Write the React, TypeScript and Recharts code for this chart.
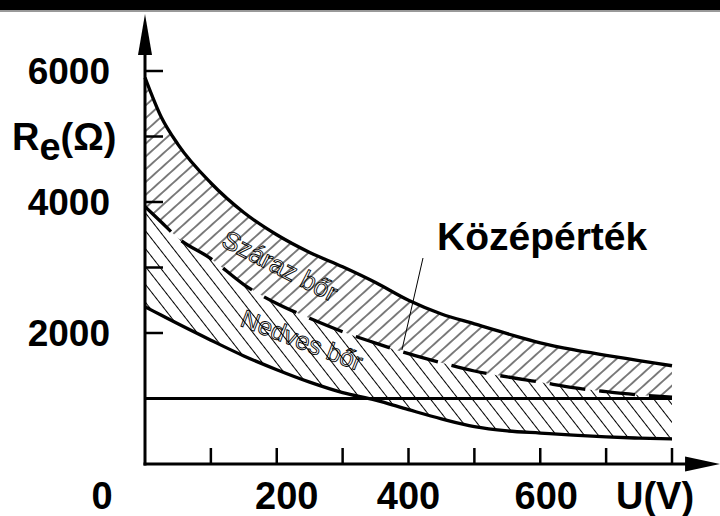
import { ComposedChart, Area, Line, XAxis, YAxis, ReferenceLine } from 'recharts';

// U (V) sample points
const voltage = [0, 25, 50, 100, 150, 200, 250, 300, 350, 400, 450, 500, 550, 600, 650, 700, 750, 800];
// upper bound (dry skin), Ω
const dryUpper = [5900, 5290, 4880, 4290, 3840, 3500, 3230, 3010, 2770, 2500, 2290, 2140, 1990, 1850, 1745, 1660, 1580, 1500];
// mean value (dashed), Ω
const middle = [3930, 3690, 3450, 3135, 2740, 2450, 2225, 2020, 1845, 1685, 1545, 1420, 1330, 1250, 1165, 1105, 1055, 1020];
// lower bound (wet skin), Ω
const wetLower = [2400, 2270, 2140, 1890, 1650, 1440, 1250, 1090, 975, 830, 690, 570, 505, 472, 440, 413, 395, 382];

const xTicks = [100, 200, 300, 400, 500, 600, 700, 800];
const xLabels = [200, 400, 600];
const yTicks = [1000, 2000, 3000, 4000, 5000, 6000];
const yLabels = [2000, 4000, 6000];
const limitLine = 1000;

// axis arrow ends, in data units
const xArrowEnd = 873;
const yArrowEnd = 6870;

// leader line for "Középérték"
const leader = [
  { x: 390, y: 1740 },
  { x: 422, y: 3145 },
];

const data = voltage.map((u, i) => ({
  u,
  upper: dryUpper[i],
  mid: middle[i],
  lower: wetLower[i],
  dryBand: [middle[i], dryUpper[i]],
  wetBand: [wetLower[i], middle[i]],
}));

const FONT = '"Liberation Sans", Arial, Helvetica, sans-serif';

// tick marks point inwards; labels drawn below / left of the axis line
function XTick({ x, payload, axisY }: any) {
  const label = xLabels.includes(payload.value);
  const shift = payload.value === 200 ? 10 : payload.value === 600 ? 6 : 0;
  return (
    <g>
      <line x1={x} y1={axisY} x2={x} y2={axisY - 16} stroke="#000" strokeWidth={2.5} />
      {label && (
        <text x={x + shift} y={axisY + 45} textAnchor="middle" fontFamily={FONT} fontWeight="bold" fontSize={38} fill="#000">
          {payload.value}
        </text>
      )}
    </g>
  );
}

function YTick({ y, payload, axisX }: any) {
  const label = yLabels.includes(payload.value);
  return (
    <g>
      <line x1={axisX} y1={y} x2={axisX + 18} y2={y} stroke="#000" strokeWidth={2.5} />
      {label && (
        <text x={axisX - 35} y={y + 13} textAnchor="end" fontFamily={FONT} fontWeight="bold" fontSize={37} fill="#000">
          {payload.value}
        </text>
      )}
    </g>
  );
}

function YAxisArrow({ x1, y1, y2 }: any) {
  const top = Math.min(y1, y2);
  const bottom = Math.max(y1, y2);
  return (
    <g>
      <line x1={x1} y1={bottom + 1.5} x2={x1} y2={top + 38} stroke="#000" strokeWidth={3} />
      <polygon points={`${x1},${top} ${x1 - 7},${top + 41} ${x1 + 7},${top + 41}`} fill="#000" />
    </g>
  );
}

function XAxisArrow({ x1, y1, x2 }: any) {
  const right = Math.max(x1, x2);
  const left = Math.min(x1, x2);
  return (
    <g>
      <line x1={left - 1.5} y1={y1} x2={right - 32} y2={y1} stroke="#000" strokeWidth={3} />
      <polygon points={`${right},${y1} ${right - 35},${y1 - 7.5} ${right - 35},${y1 + 7.5}`} fill="#000" />
    </g>
  );
}

function OutlineText({ x, y, angle, size, children }: any) {
  const common = {
    x,
    y,
    textAnchor: 'middle' as const,
    dominantBaseline: 'central' as const,
    fontFamily: FONT,
    fontSize: size,
    transform: `rotate(${angle} ${x} ${y})`,
  };
  return (
    <g opacity={0.99}>
      <text {...common} fill="#fff" stroke="#fff" strokeWidth={6} strokeLinejoin="round">
        {children}
      </text>
      <text {...common} fill="#fff" stroke="#000" strokeWidth={0.9}>
        {children}
      </text>
    </g>
  );
}

const PLOT_LEFT = 145;
const PLOT_BOTTOM = 464;

export default function App() {
  return (
    <div style={{ position: 'absolute', left: 0, top: 0, width: 720, height: 516, background: '#fff', overflow: 'hidden' }}>
      <div style={{ position: 'absolute', left: 0, top: 0, width: 720, height: 10, background: '#000' }} />
      <div style={{ position: 'absolute', left: 0, top: 10, width: 720, height: 2, background: '#999' }} />
      <div style={{ position: 'absolute', left: 0, top: 0 }}>
        <ComposedChart width={720} height={516} data={data} margin={{ top: 71, right: 48, bottom: 12, left: 85 }}>
          <defs>
            <pattern id="hatchDry" patternUnits="userSpaceOnUse" width="9.5" height="9.5" patternTransform="rotate(-42)">
              <line x1="0" y1="4.75" x2="9.5" y2="4.75" stroke="#000" strokeWidth="1" />
            </pattern>
            <pattern id="hatchWet" patternUnits="userSpaceOnUse" width="11" height="11" patternTransform="rotate(52)">
              <line x1="0" y1="5.5" x2="11" y2="5.5" stroke="#000" strokeWidth="1" />
            </pattern>
          </defs>

          <XAxis
            dataKey="u"
            type="number"
            domain={[0, 800]}
            ticks={xTicks}
            height={40}
            axisLine={false}
            tickLine={false}
            tick={<XTick axisY={PLOT_BOTTOM} />}
            interval={0}
          />
          <YAxis
            type="number"
            domain={[0, 6000]}
            ticks={yTicks}
            width={60}
            axisLine={false}
            tickLine={false}
            tick={<YTick axisX={PLOT_LEFT} />}
            interval={0}
          />

          <Area type="monotone" dataKey="dryBand" stroke="none" fill="url(#hatchDry)" fillOpacity={1} isAnimationActive={false} />
          <Area type="monotone" dataKey="wetBand" stroke="none" fill="url(#hatchWet)" fillOpacity={1} isAnimationActive={false} />

          <ReferenceLine y={limitLine} stroke="#000" strokeWidth={2.8} />

          <Line type="monotone" dataKey="upper" stroke="#000" strokeWidth={3.3} dot={false} isAnimationActive={false} />
          <Line type="monotone" dataKey="mid" stroke="#000" strokeWidth={3.3} strokeDasharray="36 14" dot={false} isAnimationActive={false} />
          <Line type="monotone" dataKey="lower" stroke="#000" strokeWidth={3.3} dot={false} isAnimationActive={false} />

          <ReferenceLine segment={leader} stroke="#000" strokeWidth={1} ifOverflow="visible" />

          <ReferenceLine
            segment={[{ x: 0, y: 0 }, { x: 0, y: yArrowEnd }]}
            ifOverflow="visible"
            shape={(p: any) => <YAxisArrow {...p} />}
          />
          <ReferenceLine
            segment={[{ x: 0, y: 0 }, { x: xArrowEnd, y: 0 }]}
            ifOverflow="visible"
            shape={(p: any) => <XAxisArrow {...p} />}
          />

          <OutlineText x={280} y={266} angle={27} size={26}>Száraz bőr</OutlineText>
          <OutlineText x={302} y={340} angle={21} size={25}>Nedves bőr</OutlineText>

          <text x={437} y={250} fontFamily={FONT} fontWeight="bold" fontSize={39} fill="#000">Középérték</text>

          <text x={12} y={150} fontFamily={FONT} fontWeight="bold" fontSize={38} fill="#000">
            R<tspan dy={10}>e</tspan><tspan dy={-10}>(Ω)</tspan>
          </text>
          <text x={102} y={509} textAnchor="middle" fontFamily={FONT} fontWeight="bold" fontSize={38} fill="#000">0</text>
          <text x={655} y={509} textAnchor="middle" fontFamily={FONT} fontWeight="bold" fontSize={38} fill="#000">U(V)</text>
        </ComposedChart>
      </div>
    </div>
  );
}
